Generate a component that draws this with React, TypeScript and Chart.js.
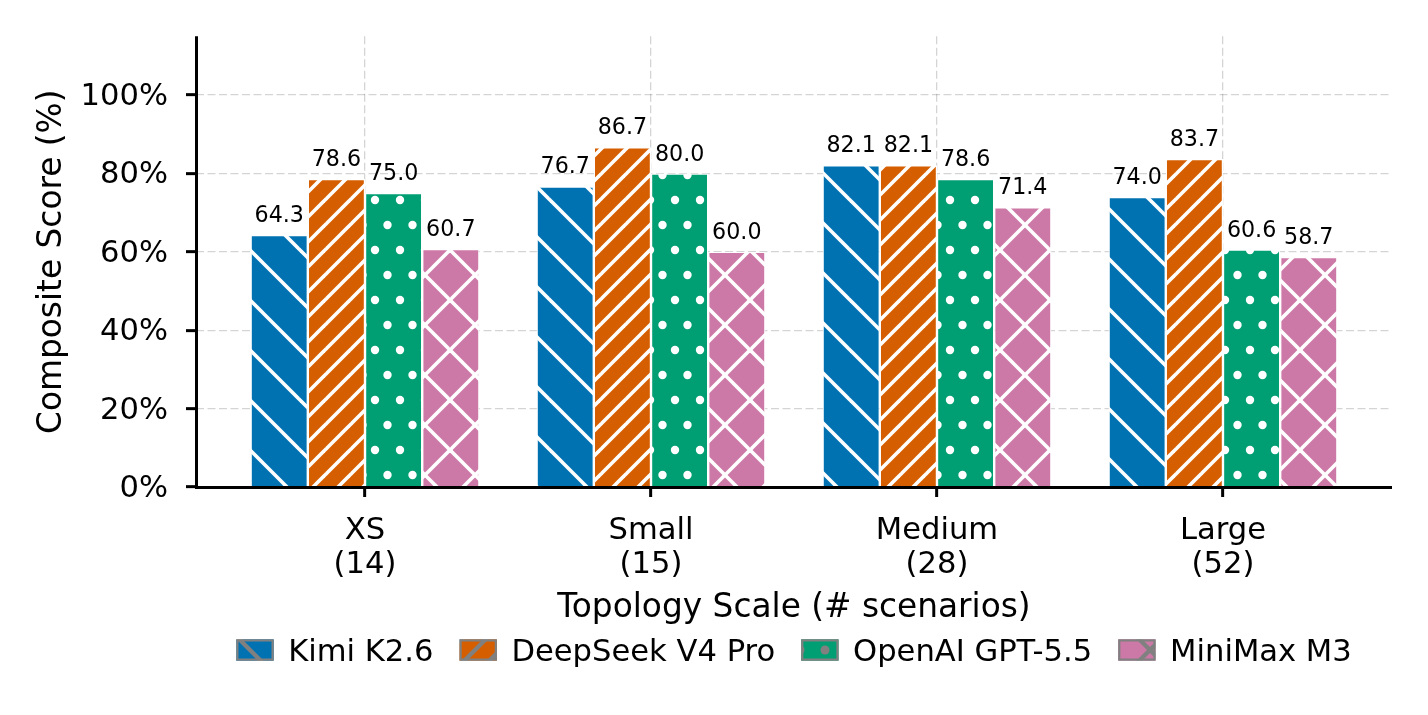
import React, { useEffect, useRef } from 'react';
import { Chart, registerables } from 'chart.js';

Chart.register(...registerables);

const categories = ['XS', 'Small', 'Medium', 'Large'];
const scenarioCounts = [14, 15, 28, 52];
const seriesNames = ['Kimi K2.6', 'DeepSeek V4 Pro', 'OpenAI GPT-5.5', 'MiniMax M3'];
const kimiValues = [64.3, 76.7, 82.1, 74.0];
const deepseekValues = [78.6, 86.7, 82.1, 83.7];
const openaiValues = [75.0, 80.0, 78.6, 60.6];
const minimaxValues = [60.7, 60.0, 71.4, 58.7];
const yTickValues = [0, 20, 40, 60, 80, 100];

const seriesValues = [kimiValues, deepseekValues, openaiValues, minimaxValues];
const seriesColors = ['#0072B2', '#D55E00', '#009E73', '#CC79A7'];
const seriesHatches = ['back', 'fwd', 'dots', 'cross'];

const FAMILY = '"DejaVu Sans", sans-serif';
const BIG = 30.6;
const TITLE = 32.8;
const SMALL = 22.2;
const GRID_COLOR = 'rgba(0,0,0,0.17)';
const LEGEND_GRAY = '#808080';

function makePattern(kind: string, bg: string, fg: string, lw: number, r: number): CanvasPattern {
  const w = kind === 'back' || kind === 'cross' ? 50 : 25;
  const h = kind === 'dots' ? 50 : w;
  const c = document.createElement('canvas');
  c.width = w;
  c.height = h;
  const g = c.getContext('2d') as CanvasRenderingContext2D;
  g.fillStyle = bg;
  g.fillRect(0, 0, w, h);
  g.strokeStyle = fg;
  g.fillStyle = fg;
  g.lineWidth = lw;
  if (kind === 'back' || kind === 'cross') {
    for (let k = -1; k <= 1; k++) {
      g.beginPath();
      g.moveTo(k * w - w, -w);
      g.lineTo(k * w + 2 * w, 2 * w);
      g.stroke();
    }
  }
  if (kind === 'fwd' || kind === 'cross') {
    for (let k = 0; k <= 2; k++) {
      g.beginPath();
      g.moveTo(k * w + w, -w);
      g.lineTo(k * w - 2 * w, 2 * w);
      g.stroke();
    }
  }
  if (kind === 'dots') {
    const pts = [
      [0, 0], [w, 0], [0, h], [w, h], [w / 2, h / 2],
    ];
    for (const [px, py] of pts) {
      g.beginPath();
      g.arc(px, py, r, 0, Math.PI * 2);
      g.fill();
    }
  }
  const ctx = document.createElement('canvas').getContext('2d') as CanvasRenderingContext2D;
  return ctx.createPattern(c, 'repeat') as CanvasPattern;
}

export default function App() {
  const ref = useRef<HTMLCanvasElement>(null);

  useEffect(() => {
    const canvas = ref.current;
    if (!canvas) return;

    const barPatterns = seriesColors.map((col, i) => makePattern(seriesHatches[i], col, '#ffffff', 3.6, 4.2));
    const legendPatterns = seriesColors.map((col, i) => makePattern(seriesHatches[i], col, LEGEND_GRAY, 4.2, 4.5));

    const datasets = seriesValues.map((vals, i) => ({
      label: seriesNames[i],
      data: vals.map((v, j) => ({ x: j, y: v })),
      backgroundColor: barPatterns[i],
      borderColor: '#ffffff',
      borderWidth: 1.2,
      borderSkipped: 'start' as const,
      categoryPercentage: 0.8,
      barPercentage: 1.0,
    }));

    const overlay = {
      id: 'overlay',
      afterDatasetsDraw(chart: any) {
        const ctx = chart.ctx as CanvasRenderingContext2D;
        ctx.save();
        ctx.font = `${SMALL}px ${FAMILY}`;
        ctx.fillStyle = '#000';
        ctx.textAlign = 'center';
        ctx.textBaseline = 'alphabetic';
        chart.data.datasets.forEach((_ds: any, i: number) => {
          const meta = chart.getDatasetMeta(i);
          meta.data.forEach((el: any, j: number) => {
            ctx.fillText(seriesValues[i][j].toFixed(1), el.x, el.y - 13);
          });
        });
        const { left, right, top, bottom } = chart.chartArea;
        ctx.strokeStyle = '#000';
        ctx.lineWidth = 3;
        ctx.lineCap = 'butt';
        ctx.beginPath();
        ctx.moveTo(left + 0.5, top);
        ctx.lineTo(left + 0.5, bottom + 2);
        ctx.moveTo(left - 1, bottom + 0.5);
        ctx.lineTo(right, bottom + 0.5);
        ctx.stroke();
        ctx.restore();
      },
      afterDraw(chart: any) {
        const ctx = chart.ctx as CanvasRenderingContext2D;
        const { left, right } = chart.chartArea;
        ctx.save();
        ctx.font = `${BIG}px ${FAMILY}`;
        const boxW = 37.4;
        const boxH = 21.4;
        const textPad = 14.5;
        const colGap = 26;
        const widths = seriesNames.map((n) => ctx.measureText(n).width);
        const total = widths.reduce((a, b) => a + b, 0) + seriesNames.length * (boxW + textPad) + (seriesNames.length - 1) * colGap;
        let x = (left + right) / 2 - total / 2;
        const cy = 650;
        seriesNames.forEach((name, i) => {
          ctx.fillStyle = legendPatterns[i];
          ctx.fillRect(x, cy - boxH / 2, boxW, boxH);
          ctx.strokeStyle = LEGEND_GRAY;
          ctx.lineWidth = 2.2;
          ctx.strokeRect(x + 1.1, cy - boxH / 2 + 1.1, boxW - 2.2, boxH - 2.2);
          ctx.fillStyle = '#000';
          ctx.textAlign = 'left';
          ctx.textBaseline = 'alphabetic';
          ctx.fillText(name, x + boxW + textPad, cy + 0.3645 * BIG);
          x += boxW + textPad + widths[i] + colGap;
        });
        ctx.restore();
      },
    };

    const tickFont = { family: FAMILY, size: BIG, lineHeight: 1.111 };
    const titleFont = { family: FAMILY, size: TITLE, lineHeight: 1.2 };

    const chart = new Chart(canvas, {
      type: 'bar',
      data: { datasets: datasets as any },
      options: {
        responsive: false,
        animation: false,
        devicePixelRatio: 1,
        layout: { padding: { left: 0, top: 35, right: 36, bottom: 88 } },
        plugins: {
          legend: { display: false },
          tooltip: { enabled: false },
        },
        scales: {
          x: {
            type: 'linear',
            min: -0.591,
            max: 3.591,
            offset: false,
            afterBuildTicks: (s: any) => {
              s.ticks = categories.map((_c, i) => ({ value: i }));
            },
            afterFit: (s: any) => {
              s.height = 140;
            },
            grid: {
              offset: false,
              color: GRID_COLOR,
              lineWidth: 1.3,
              drawTicks: true,
              tickLength: 10,
              tickWidth: 3,
              tickColor: '#000',
              tickBorderDash: [],
            } as any,
            border: { display: false, dash: [8, 3.5] },
            ticks: {
              autoSkip: false,
              maxRotation: 0,
              minRotation: 0,
              color: '#000',
              font: tickFont,
              padding: 17,
              callback: (v: any) => {
                const i = Math.round(Number(v));
                return [categories[i], `(${scenarioCounts[i]})`];
              },
            },
            title: {
              display: true,
              text: 'Topology Scale (# scenarios)',
              color: '#000',
              font: titleFont,
              padding: { top: 0, bottom: -1 },
            },
          },
          y: {
            type: 'linear',
            min: 0,
            max: 115,
            afterBuildTicks: (s: any) => {
              s.ticks = yTickValues.map((v) => ({ value: v }));
            },
            afterFit: (s: any) => {
              s.width = 196;
            },
            grid: {
              color: GRID_COLOR,
              lineWidth: 1.3,
              drawTicks: true,
              tickLength: 10,
              tickWidth: 3,
              tickColor: '#000',
              tickBorderDash: [],
            } as any,
            border: { display: false, dash: [8, 3.5] },
            ticks: {
              color: '#000',
              font: { family: FAMILY, size: BIG },
              padding: 18,
              labelOffset: 2,
              callback: (v: any) => `${v}%`,
            },
            title: {
              display: true,
              text: 'Composite Score (%)',
              color: '#000',
              font: titleFont,
              padding: { top: 33, bottom: 0 },
            },
          },
        },
      },
      plugins: [overlay],
    });

    return () => chart.destroy();
  }, []);

  return (
    <div style={{ position: 'absolute', left: 0, top: 0, width: 1428, height: 715, background: '#ffffff' }}>
      <canvas ref={ref} width={1428} height={715} style={{ display: 'block', width: 1428, height: 715 }} />
    </div>
  );
}
